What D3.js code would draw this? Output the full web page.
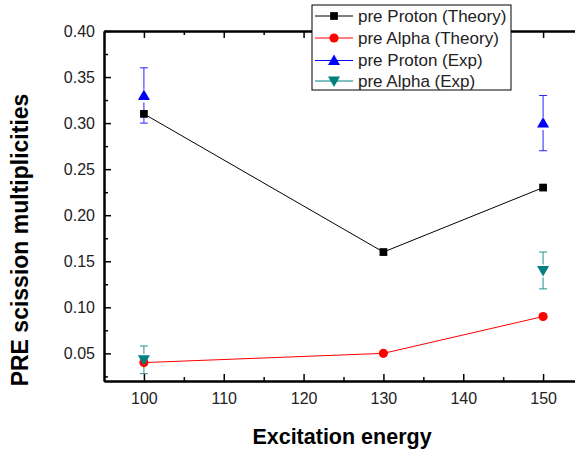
<html>
<head>
<script src="https://d3js.org/d3.v7.min.js"></script>
<style>
  body { margin: 0; background: #fff; }
  svg text { font-family: Arial, "Liberation Sans", sans-serif; }
  .tick text { font-size: 16px; fill: #222; }
  .axis path, .axis line { stroke: #000; }
</style>
</head>
<body>
<div id="chart"></div>
<script>
// data
const energy = [100, 130, 150];
const protonTheory = [0.31, 0.16, 0.23];
const alphaTheory = [0.04, 0.05, 0.09];
const expEnergy = [100, 150];
const protonExp = [0.33, 0.30];
const protonExpErr = [0.03, 0.03];
const alphaExp = [0.043, 0.14];
const alphaExpErr = [0.015, 0.02];
const xTicks = [100, 110, 120, 130, 140, 150];
const xMinor = [105, 115, 125, 135, 145];
const yTicks = [0.05, 0.10, 0.15, 0.20, 0.25, 0.30, 0.35, 0.40];
const yMinor = [0.025, 0.075, 0.125, 0.175, 0.225, 0.275, 0.325, 0.375];
const legendLabels = ["pre Proton (Theory)", "pre Alpha (Theory)", "pre Proton (Exp)", "pre Alpha (Exp)"];

const svg = d3.select("#chart").append("svg")
  .attr("width", 575).attr("height", 453);

const margin = { left: 104, top: 31, right: 583, bottom: 381 };
const x = d3.scaleLinear().domain([95, 155]).range([margin.left, margin.right]);
const y = d3.scaleLinear().domain([0.02, 0.40]).range([margin.bottom, margin.top]);

// axes
function styleAxis(g) {
  g.attr("class", "axis");
  g.select(".domain").attr("stroke-width", 2);
  g.selectAll(".tick line").attr("stroke-width", 1.5);
}
svg.append("g").attr("transform", `translate(0,${margin.bottom})`)
  .call(d3.axisBottom(x).tickValues(xTicks).tickSize(-7).tickPadding(12).tickSizeOuter(0))
  .call(styleAxis);
svg.append("g").attr("transform", `translate(0,${margin.bottom})`)
  .call(d3.axisBottom(x).tickValues(xMinor).tickSize(-4).tickFormat("").tickSizeOuter(0))
  .call(styleAxis);
svg.append("g").attr("transform", `translate(0,${margin.top})`)
  .call(d3.axisTop(x).tickValues(xTicks).tickSize(-7).tickFormat("").tickSizeOuter(0))
  .call(styleAxis);
svg.append("g").attr("transform", `translate(0,${margin.top})`)
  .call(d3.axisTop(x).tickValues(xMinor).tickSize(-4).tickFormat("").tickSizeOuter(0))
  .call(styleAxis);

svg.append("g").attr("transform", `translate(${margin.left},0)`)
  .call(d3.axisLeft(y).tickValues(yTicks).tickSize(-7).tickPadding(9).tickSizeOuter(0).tickFormat(d3.format(".2f")))
  .call(styleAxis);
svg.append("g").attr("transform", `translate(${margin.left},0)`)
  .call(d3.axisLeft(y).tickValues(yMinor).tickSize(-4).tickFormat("").tickSizeOuter(0))
  .call(styleAxis);
svg.append("g").attr("transform", `translate(${margin.right},0)`)
  .call(d3.axisRight(y).tickValues(yTicks).tickSize(-7).tickFormat("").tickSizeOuter(0))
  .call(styleAxis);
svg.append("g").attr("transform", `translate(${margin.right},0)`)
  .call(d3.axisRight(y).tickValues(yMinor).tickSize(-4).tickFormat("").tickSizeOuter(0))
  .call(styleAxis);

// axis titles
svg.append("text")
  .attr("x", 342).attr("y", 444)
  .attr("text-anchor", "middle")
  .style("font-size", "21.5px").style("font-weight", "bold")
  .text("Excitation energy");
svg.append("text")
  .attr("transform", "translate(28,240) rotate(-90)")
  .attr("text-anchor", "middle")
  .style("font-size", "23px").style("font-weight", "bold")
  .text("PRE scission multiplicities");

const line = d3.line().x(d => x(d[0])).y(d => y(d[1]));
const sym = (type, size) => d3.symbol().type(type).size(size)();
const triDown = { draw(ctx, size) { const s = Math.sqrt(size); ctx.moveTo(-s * 0.6, -s * 0.45); ctx.lineTo(s * 0.6, -s * 0.45); ctx.lineTo(0, s * 0.6); ctx.closePath(); } };
const triUp = { draw(ctx, size) { const s = Math.sqrt(size); ctx.moveTo(-s * 0.6, s * 0.45); ctx.lineTo(s * 0.6, s * 0.45); ctx.lineTo(0, -s * 0.6); ctx.closePath(); } };

// theory lines
svg.append("path").datum(d3.zip(energy, protonTheory))
  .attr("d", line).attr("fill", "none").attr("stroke", "#000").attr("stroke-width", 1);
svg.append("path").datum(d3.zip(energy, alphaTheory))
  .attr("d", line).attr("fill", "none").attr("stroke", "#ff0000").attr("stroke-width", 1);

// error bars
function errorBars(vals, errs, color) {
  expEnergy.forEach((e, i) => {
    const cx = x(e), top = y(vals[i] + errs[i]), bot = y(vals[i] - errs[i]), cy = y(vals[i]);
    const g = svg.append("g").attr("stroke", color).attr("stroke-width", 1).attr("opacity", 0.85);
    g.append("line").attr("x1", cx).attr("x2", cx).attr("y1", top).attr("y2", Math.min(cy - 6, bot));
    g.append("line").attr("x1", cx).attr("x2", cx).attr("y1", Math.max(cy + 7, top)).attr("y2", bot);
    g.append("line").attr("x1", cx - 4).attr("x2", cx + 4).attr("y1", top).attr("y2", top);
    g.append("line").attr("x1", cx - 4).attr("x2", cx + 4).attr("y1", bot).attr("y2", bot);
  });
}
errorBars(protonExp, protonExpErr, "#0000ff");
errorBars(alphaExp, alphaExpErr, "#008080");

// markers
svg.selectAll(".sq").data(d3.zip(energy, protonTheory)).join("path")
  .attr("transform", d => `translate(${x(d[0])},${y(d[1])})`)
  .attr("d", sym(d3.symbolSquare, 60)).attr("fill", "#000");
svg.selectAll(".ci").data(d3.zip(energy, alphaTheory)).join("path")
  .attr("transform", d => `translate(${x(d[0])},${y(d[1])})`)
  .attr("d", sym(d3.symbolCircle, 66)).attr("fill", "#ff0000");
svg.selectAll(".tu").data(d3.zip(expEnergy, protonExp)).join("path")
  .attr("transform", d => `translate(${x(d[0])},${y(d[1])})`)
  .attr("d", sym(triUp, 100)).attr("fill", "#0000ff");
svg.selectAll(".td").data(d3.zip(expEnergy, alphaExp)).join("path")
  .attr("transform", d => `translate(${x(d[0])},${y(d[1])})`)
  .attr("d", sym(triDown, 100)).attr("fill", "#008080");

// legend
const legend = svg.append("g").attr("transform", "translate(312,5)");
legend.append("rect").attr("width", 199).attr("height", 85)
  .attr("fill", "#fff").attr("stroke", "#000").attr("stroke-width", 1);
const legendColors = ["#000", "#ff0000", "#0000ff", "#008080"];
const legendShapes = [sym(d3.symbolSquare, 60), sym(d3.symbolCircle, 66), sym(triUp, 100), sym(triDown, 100)];
const rowY = [11, 33, 55.5, 76];
legendLabels.forEach((lab, i) => {
  const r = legend.append("g").attr("transform", `translate(0,${rowY[i]})`);
  r.append("line").attr("x1", 3).attr("x2", 41).attr("stroke", legendColors[i]).attr("stroke-width", 1);
  r.append("path").attr("transform", "translate(22,0)").attr("d", legendShapes[i]).attr("fill", legendColors[i]);
  r.append("text").attr("x", 46).attr("dy", "0.35em").style("font-size", "17px").attr("fill", "#222").text(lab);
});
</script>
</body>
</html>
